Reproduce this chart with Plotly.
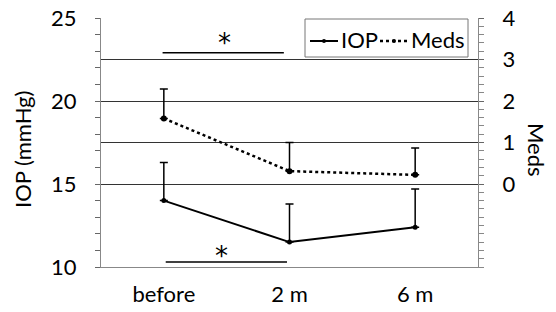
import plotly.graph_objects as go

categories = ["before", "2 m", "6 m"]
iop_values = [14.0, 11.5, 12.4]
iop_err_plus = [2.3, 2.3, 2.3]
meds_values = [1.58, 0.31, 0.22]
meds_err_plus = [0.71, 0.69, 0.65]

left_ticks = [10, 15, 20, 25]
right_ticks = [0, 1, 2, 3, 4]

FONT = "Lato"
FS = 22
L, R, T, B = 101, 78, 18, 45
W, H = 556, 312
PW, PH = W - L - R, H - T - B


def px(xp):
    return (xp - L) / PW


def py(yp):
    return (H - B - yp) / PH


fig = go.Figure()
fig.add_trace(go.Scatter(
    x=categories, y=iop_values, name="IOP", mode="lines+markers", showlegend=False,
    line=dict(color="black", width=2), marker=dict(size=5, color="black"),
    error_y=dict(type="data", symmetric=False, array=iop_err_plus,
                 arrayminus=[0, 0, 0], color="black", thickness=1.5, width=4),
    yaxis="y"))
fig.add_trace(go.Scatter(
    x=categories, y=meds_values, name="Meds", mode="lines+markers", showlegend=False,
    line=dict(color="black", width=2.5, dash="dot"), marker=dict(size=6, color="black"),
    error_y=dict(type="data", symmetric=False, array=meds_err_plus,
                 arrayminus=[0, 0, 0], color="black", thickness=1.5, width=4),
    yaxis="y2"))

# significance brackets (category index / IOP axis units)
sig_top = dict(x0=-0.01, x1=0.955, y=22.9, star_x=0.48, star_y=23.5)
sig_bot = dict(x0=0.015, x1=0.98, y=10.3, star_x=0.455, star_y=10.65)
for s in (sig_top, sig_bot):
    fig.add_shape(type="line", xref="x", yref="y", x0=s["x0"], x1=s["x1"],
                  y0=s["y"], y1=s["y"], line=dict(color="black", width=1.5))
    fig.add_annotation(x=s["star_x"], y=s["star_y"], xref="x", yref="y", text="*",
                       yanchor="middle", xanchor="center", showarrow=False,
                       font=dict(size=26, color="black", family="DejaVu Sans"))

# legend drawn manually
fig.add_shape(type="rect", xref="paper", yref="paper", x0=px(305), x1=px(468),
              y0=py(57), y1=py(19), line=dict(color="#777", width=1), fillcolor="white")
fig.add_shape(type="line", xref="paper", yref="paper", x0=px(310), x1=px(338),
              y0=py(41), y1=py(41), line=dict(color="black", width=2))
fig.add_shape(type="circle", xref="paper", yref="paper", x0=px(322), x1=px(326),
              y0=py(43), y1=py(39), line=dict(color="black", width=0), fillcolor="black")
fig.add_shape(type="line", xref="paper", yref="paper", x0=px(380), x1=px(408),
              y0=py(41), y1=py(41), line=dict(color="black", width=2.5, dash="dot"))
fig.add_shape(type="circle", xref="paper", yref="paper", x0=px(392), x1=px(396),
              y0=py(43), y1=py(39), line=dict(color="black", width=0), fillcolor="black")
fig.add_annotation(text="IOP", xref="paper", yref="paper", x=px(339), y=py(39),
                   xanchor="left", yanchor="middle", showarrow=False,
                   font=dict(size=FS, family=FONT))
fig.add_annotation(text="Meds", xref="paper", yref="paper", x=px(409), y=py(39),
                   xanchor="left", yanchor="middle", showarrow=False,
                   font=dict(size=FS, family=FONT))

fig.add_annotation(text="IOP (mmHg)", xref="paper", yref="paper", x=px(23), y=py(150),
                   textangle=-90, xanchor="center", yanchor="middle", showarrow=False,
                   font=dict(size=FS, family=FONT))
fig.add_annotation(text="Meds", xref="paper", yref="paper", x=px(536), y=py(150),
                   textangle=90, xanchor="center", yanchor="middle", showarrow=False,
                   font=dict(size=FS, family=FONT))

fig.update_layout(
    width=W, height=H,
    margin=dict(l=L, r=R, t=T, b=B, autoexpand=False),
    paper_bgcolor="white", plot_bgcolor="white",
    font=dict(family=FONT, size=FS, color="black"),
    showlegend=False,
    xaxis=dict(type="category", range=[-0.5, 2.5], showgrid=False, automargin=False,
               showline=True, linecolor="#888", linewidth=1, ticks="",
               tickfont=dict(size=FS), zeroline=False, ticklabelstandoff=8),
    yaxis=dict(range=[10, 25], tickvals=left_ticks, showgrid=False, automargin=False,
               showline=True, linecolor="#888", linewidth=1,
               ticks="outside", ticklen=5, tickcolor="#666",
               minor=dict(dtick=1, ticks="outside", ticklen=5, tickcolor="#666"),
               zeroline=False, ticklabelstandoff=14),
    yaxis2=dict(range=[-2, 4], tickmode="array", tickvals=right_ticks, overlaying="y",
                side="right", automargin=False,
                showgrid=True, gridcolor="#333", gridwidth=1,
                showline=True, linecolor="#888", linewidth=1,
                ticks="outside", ticklen=5, tickcolor="#666",
                minor=dict(dtick=0.2, ticks="outside", ticklen=5, tickcolor="#888", showgrid=False),
                zeroline=False, ticklabelstandoff=14),
)
fig.write_html("out.html", post_script="document.body.style.margin='0';",
               config={"displayModeBar": False})
